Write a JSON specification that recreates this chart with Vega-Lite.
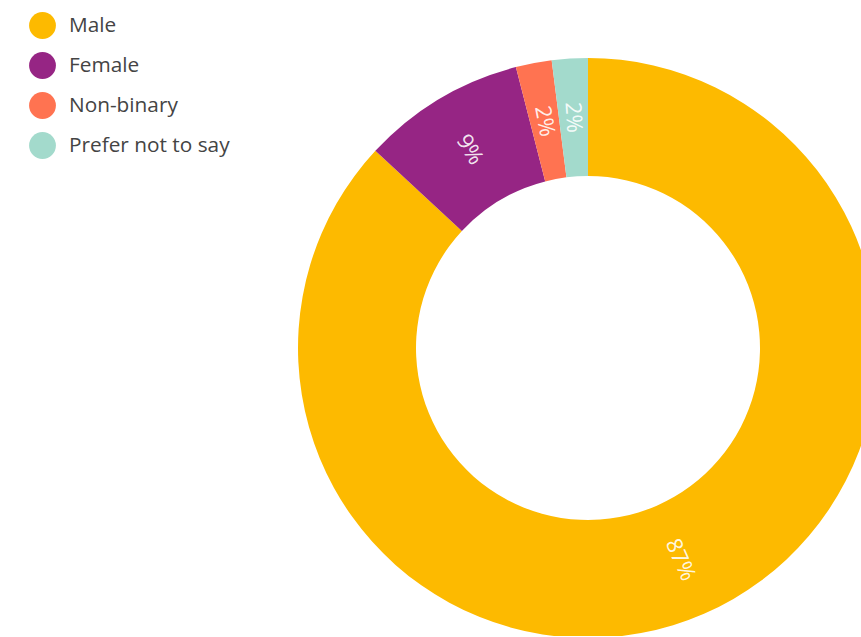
{
  "$schema": "https://vega.github.io/schema/vega-lite/v6.json",
  "autosize": {"type": "none"},
  "padding": {"left": 315, "top": 60, "right": 0, "bottom": 0},
  "width": 546,
  "height": 576,
  "background": "white",
  "config": {"view": {"stroke": null}, "font": "Open Sans"},
  "data": {
    "values": [
      {"gender": "Male", "share": 0.869},
      {"gender": "Female", "share": 0.091},
      {"gender": "Non-binary", "share": 0.02},
      {"gender": "Prefer not to say", "share": 0.02}
    ]
  },
  "transform": [
    {"window": [{"op": "row_number", "as": "rank"}, {"op": "sum", "field": "share", "as": "cum"}]},
    {"calculate": "(datum.cum - datum.share / 2) * 360", "as": "mid"},
    {"calculate": "datum.mid < 180 ? datum.mid - 90 : datum.mid + 90", "as": "labelAngle"}
  ],
  "encoding": {
    "theta": {"field": "share", "type": "quantitative", "stack": true},
    "order": {"field": "rank", "type": "quantitative"},
    "color": {
      "field": "gender",
      "type": "nominal",
      "sort": ["Male", "Female", "Non-binary", "Prefer not to say"],
      "scale": {
        "domain": ["Male", "Female", "Non-binary", "Prefer not to say"],
        "range": ["#FDBA00", "#962584", "#FF7351", "#A3DACC"]
      },
      "legend": {
        "title": null,
        "orient": "none",
        "legendX": -286,
        "legendY": -48,
        "symbolType": "circle",
        "symbolSize": 720,
        "symbolStrokeWidth": 0,
        "labelFontSize": 20.8,
        "labelColor": "#444444",
        "labelFont": "Open Sans",
        "labelLimit": 400,
        "rowPadding": 13,
        "labelOffset": 13
      }
    }
  },
  "layer": [
    {"mark": {"type": "arc", "outerRadius": 290, "innerRadius": 172}},
    {
      "mark": {"type": "text", "radius": 231, "fontSize": 22, "fill": "#ffffff", "fillOpacity": 0.9, "font": "Open Sans"},
      "encoding": {
        "text": {"field": "share", "type": "quantitative", "format": ".0%"},
        "angle": {"field": "labelAngle", "type": "quantitative", "scale": null},
        "color": {"value": "#ffffff"}
      }
    }
  ]
}
